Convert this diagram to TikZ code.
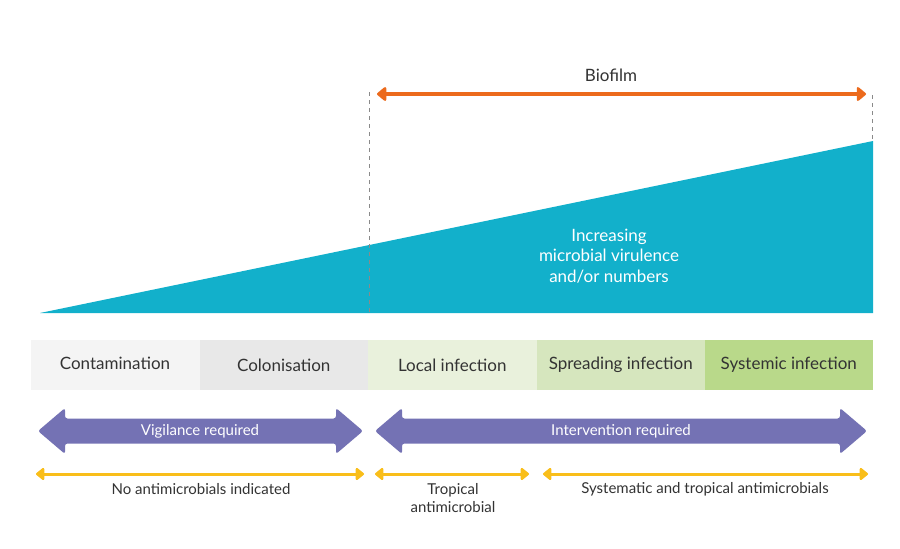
\documentclass[tikz,border=0pt]{standalone}
\usepackage{fontspec}
\setmainfont{Lato}
\usetikzlibrary{arrows.meta}
\definecolor{teal1}{HTML}{12B0CB}
\definecolor{orange1}{HTML}{EC6A1C}
\definecolor{purple1}{HTML}{7472B4}
\definecolor{yellow1}{HTML}{F9BE1A}
\definecolor{txt}{HTML}{333333}
\definecolor{dashc}{HTML}{8A8A8A}
\definecolor{sA}{HTML}{F4F4F4}
\definecolor{sB}{HTML}{E8E8E8}
\definecolor{sC}{HTML}{E9F1DC}
\definecolor{sD}{HTML}{D6E6BE}
\definecolor{sE}{HTML}{B9D98A}
\tikzset{
  stage/.style={anchor=north west, minimum width=168.5pt, minimum height=50pt, inner sep=0pt, outer sep=0pt},
  stxt/.style={text=txt, font=\fontsize{17}{20}\selectfont},
  lbl/.style={text=txt, font=\fontsize{15}{18}\selectfont, align=center},
  wlbl/.style={text=white, font=\fontsize{15}{18}\selectfont, align=center},
  yarrow/.style={draw=yellow1, line width=3pt, {Triangle[length=9pt,width=14pt,round]}-{Triangle[length=9pt,width=14pt,round]}},
  oarrow/.style={draw=orange1, line width=4pt, {Triangle[length=10pt,width=16pt,round]}-{Triangle[length=10pt,width=16pt,round]}},
  dashln/.style={draw=dashc, line width=1pt, dash pattern=on 4pt off 4pt},
}
\newcommand{\dblarrow}[2]{% left tip x, right tip x, center y=431
  \fill[purple1, rounded corners=2.5pt] (#1,431) -- (#1+27,408) -- (#1+27,418.5) -- (#2-27,418.5) -- (#2-27,408) -- (#2,431) -- (#2-27,454) -- (#2-27,443.5) -- (#1+27,443.5) -- (#1+27,454) -- cycle;}
\begin{document}
\begin{tikzpicture}[x=1pt,y=-1pt]
\useasboundingbox[fill=white] (0,0) rectangle (900,549);
% triangle
\fill[teal1] (40,313) -- (873,141) -- (873,313) -- cycle;
% dashed verticals
\coordinate (dL1) at (369,92);
\coordinate (dL2) at (369,313);
\coordinate (dR1) at (872,95);
\coordinate (dR2) at (872,141);
\draw[dashln] (dL1) -- (dL2);
\draw[dashln] (dR1) -- (dR2);
% biofilm arrow
\coordinate (bL) at (377,94);
\coordinate (bR) at (866,94);
\draw[oarrow] (bL) -- (bR);
\node[lbl, font=\fontsize{17}{20}\selectfont] (bio) at (611,75) {Biofilm};
% triangle text
\node[wlbl, font=\fontsize{17}{20.5}\selectfont] (inc) at (609,256) {Increasing\\microbial virulence\\and/or numbers};
% stages
\node[stage, fill=sA] (s1) at (31,340) {};
\node[stage, fill=sB] (s2) at (199.5,340) {};
\node[stage, fill=sC] (s3) at (368,340) {};
\node[stage, fill=sD] (s4) at (536.5,340) {};
\node[stage, fill=sE] (s5) at (704.5,340) {};
\node[stxt] at (115,363) {Contamination};
\node[stxt] at (s2) {Colonisation};
\node[stxt] at (s3) {Local infection};
\node[stxt] at (s4) {Spreading infection};
\node[stxt] at (s5) {Systemic infection};
% purple arrows
\dblarrow{38}{363}
\dblarrow{375}{867}
\node[wlbl] (vig) at (200,431) {Vigilance required};
\node[wlbl] (int) at (621,431) {Intervention required};
% yellow arrows
\coordinate (y1a) at (36,474); \coordinate (y1b) at (364,474);
\coordinate (y2a) at (375,474); \coordinate (y2b) at (529,474);
\coordinate (y3a) at (543,474); \coordinate (y3b) at (868,474);
\draw[yarrow] (y1a) -- (y1b);
\draw[yarrow] (y2a) -- (y2b);
\draw[yarrow] (y3a) -- (y3b);
\node[lbl] (t1) at (201,489) {No antimicrobials indicated};
\node[lbl] (t2) at (453,498) {Tropical\\antimicrobial};
\node[lbl] (t3) at (705,489) {Systematic and tropical antimicrobials};
\end{tikzpicture}
\end{document}
